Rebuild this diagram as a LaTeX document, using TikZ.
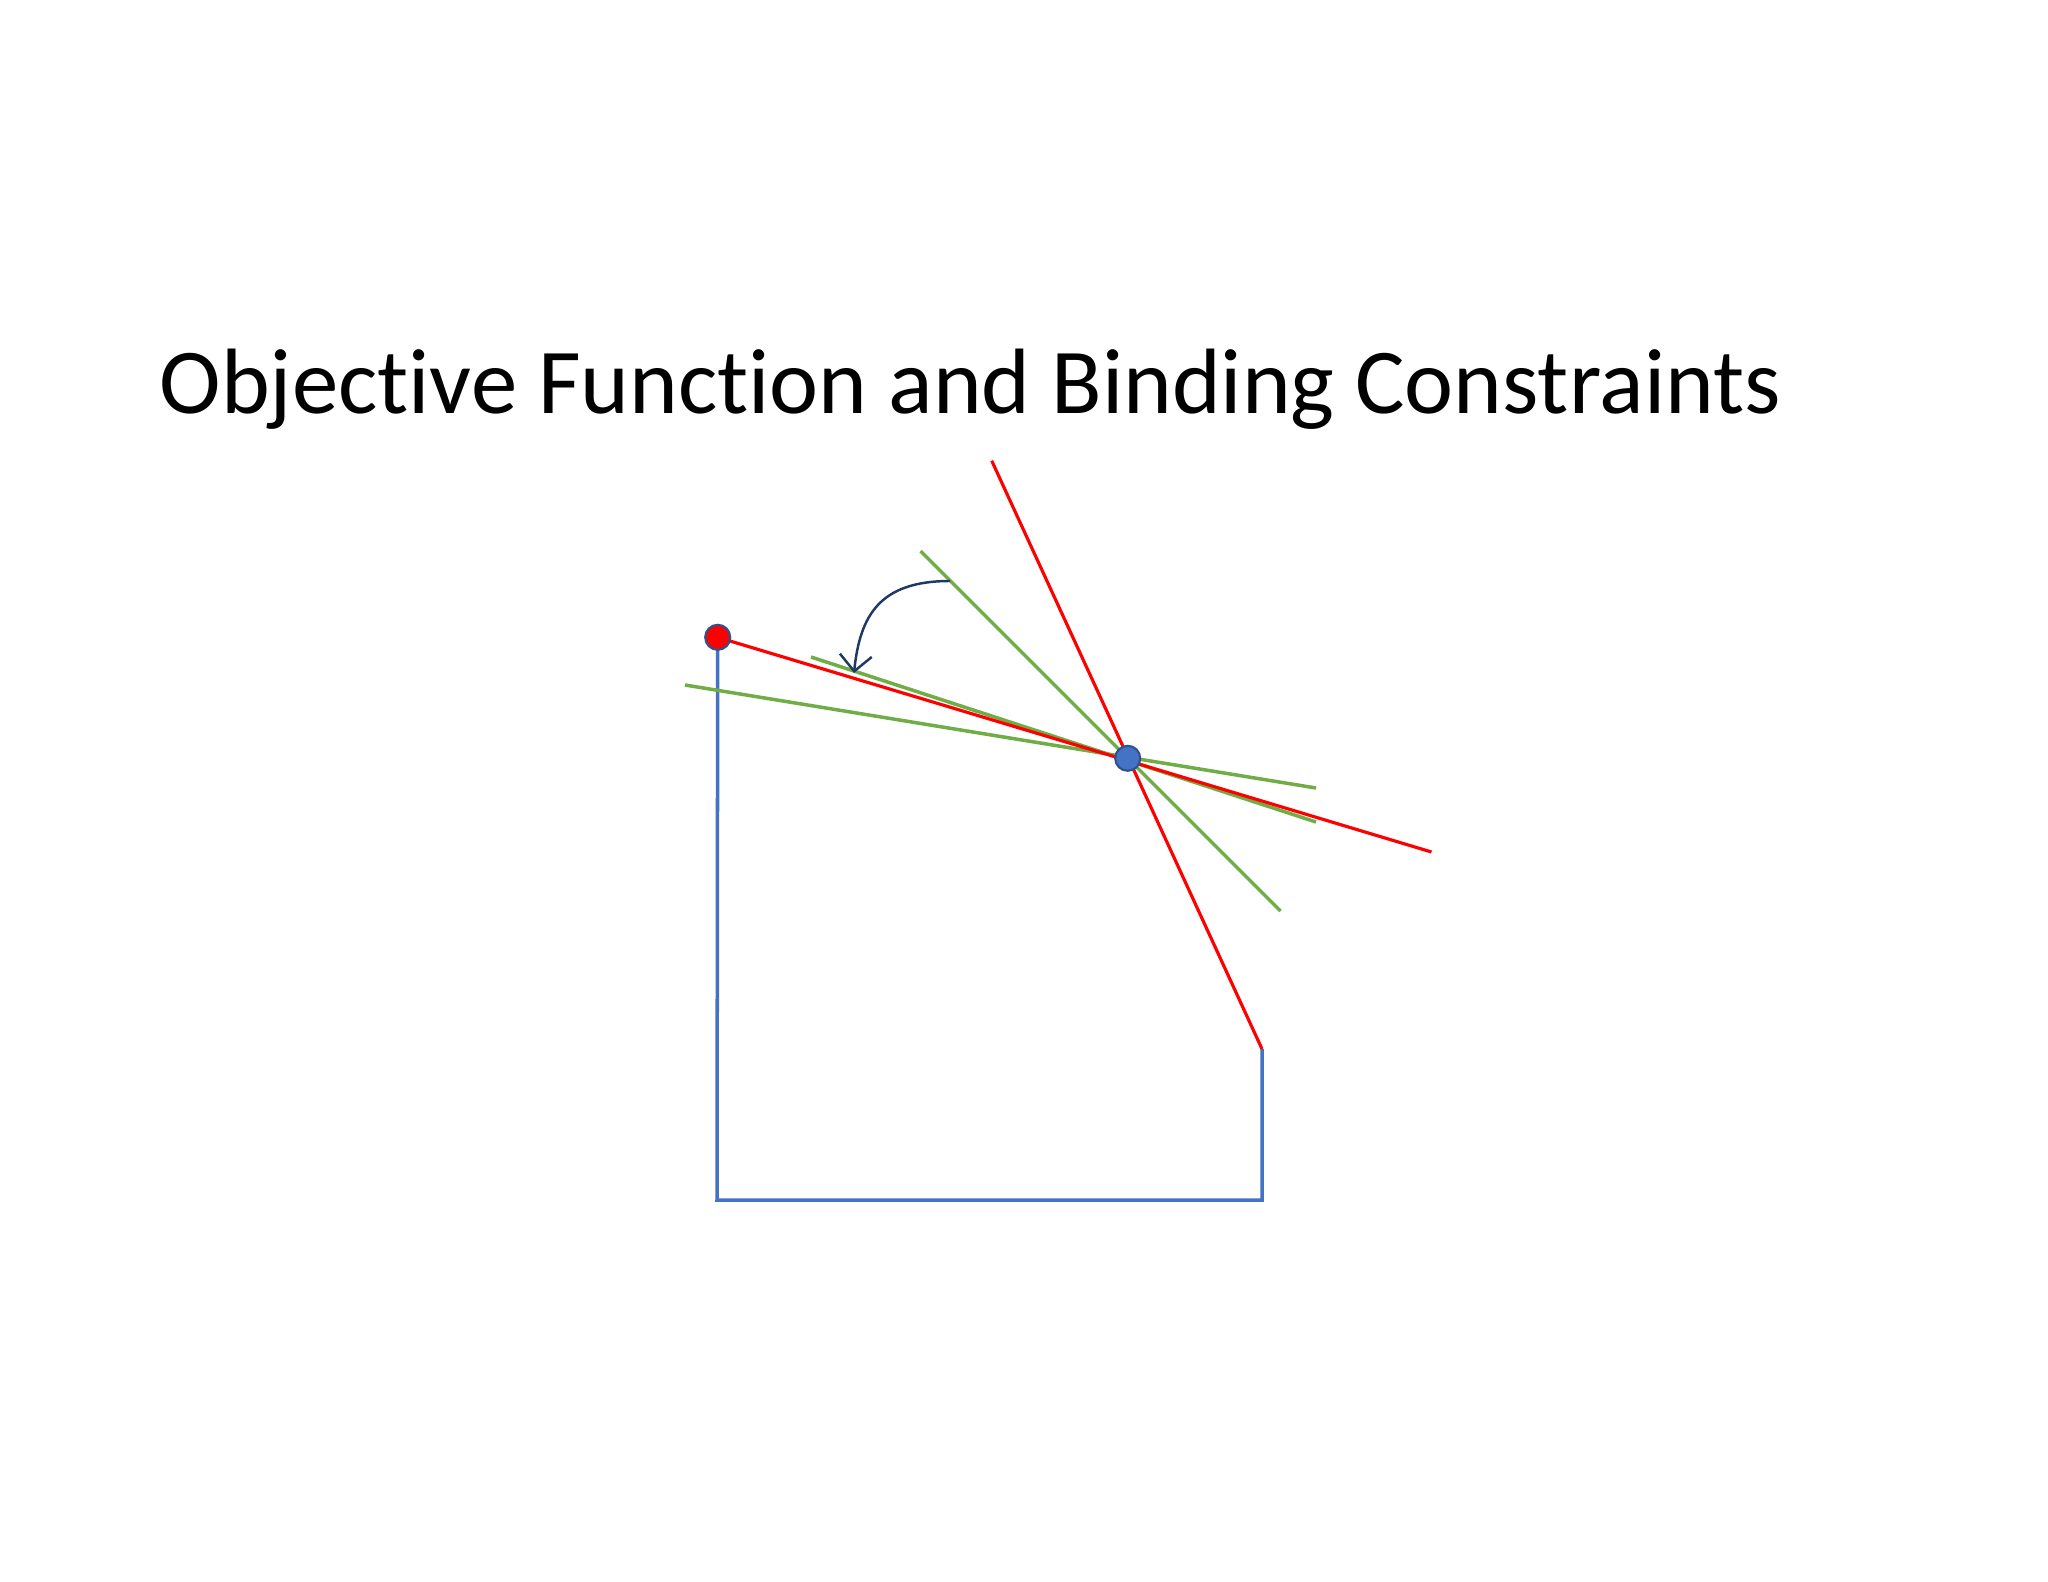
\documentclass[tikz,border=0pt]{standalone}
\usepackage{fontspec}
\setmainfont[Ligatures=NoCommon]{Carlito}
\usepackage{xcolor}
\usepackage{tikz}
\usetikzlibrary{arrows.meta}

\definecolor{redline}{HTML}{FF0000}
\definecolor{greenline}{HTML}{70AD47}
\definecolor{blueline}{HTML}{4472C4}
\definecolor{darkblue}{HTML}{2F528F}
\definecolor{arrowblue}{HTML}{203864}

\begin{document}
\begin{tikzpicture}[x=0.01cm, y=-0.01cm,
constraint/.style={draw=redline, line width=0.9pt},
objective/.style={draw=greenline, line width=1pt},
bound/.style={draw=blueline, line width=1pt},
rotate arrow/.style={draw=arrowblue, line width=0.7pt, -{Straight Barb[length=1.6mm, width=3.2mm]}},
vertex/.style={circle, draw=darkblue, line width=0.6pt, minimum size=2.5mm, inner sep=0pt},
title/.style={anchor=base west, inner sep=0pt, font=\fontsize{26.4}{30}\selectfont}
]
	\useasboundingbox (0,0) rectangle (2048,1582);
	\node[title] (title) at (159,413) {Objective Function and Binding Constraints};

	% corner points and line ends
	\coordinate (cA) at (717.7,637.3);
	\coordinate (cB) at (1127.7,758.3);
	\coordinate (cC) at (1262,1049);
	\coordinate (cD) at (1262,1200);
	\coordinate (cE) at (717,1200);
	\coordinate (r1) at (1431.5,852);
	\coordinate (r2) at (991.7,460.7);
	\coordinate (g1s) at (920.5,551) ; \coordinate (g1e) at (1280.5,911);
	\coordinate (g2s) at (811,657)   ; \coordinate (g2e) at (1316,822);
	\coordinate (g3s) at (685,685)   ; \coordinate (g3e) at (1316,788);
	\coordinate (arrS) at (950,581);
	\coordinate (arrE) at (854,673);

	\draw[bound] (cA) -- (cE) -- (cD) -- (cC);
	\draw[objective] (g1s) -- (g1e);
	\draw[objective] (g2s) -- (g2e);
	\draw[objective] (g3s) -- (g3e);
	\draw[constraint] (cA) -- (r1);
	\draw[constraint] (r2) -- (cC);
	\draw[rotate arrow] (arrS) .. controls (880,581) and (860,615) .. (arrE);

	\node[vertex, fill=redline] (start) at (cA) {};
	\node[vertex, fill=blueline] (opt) at (cB) {};
\end{tikzpicture}
\end{document}
